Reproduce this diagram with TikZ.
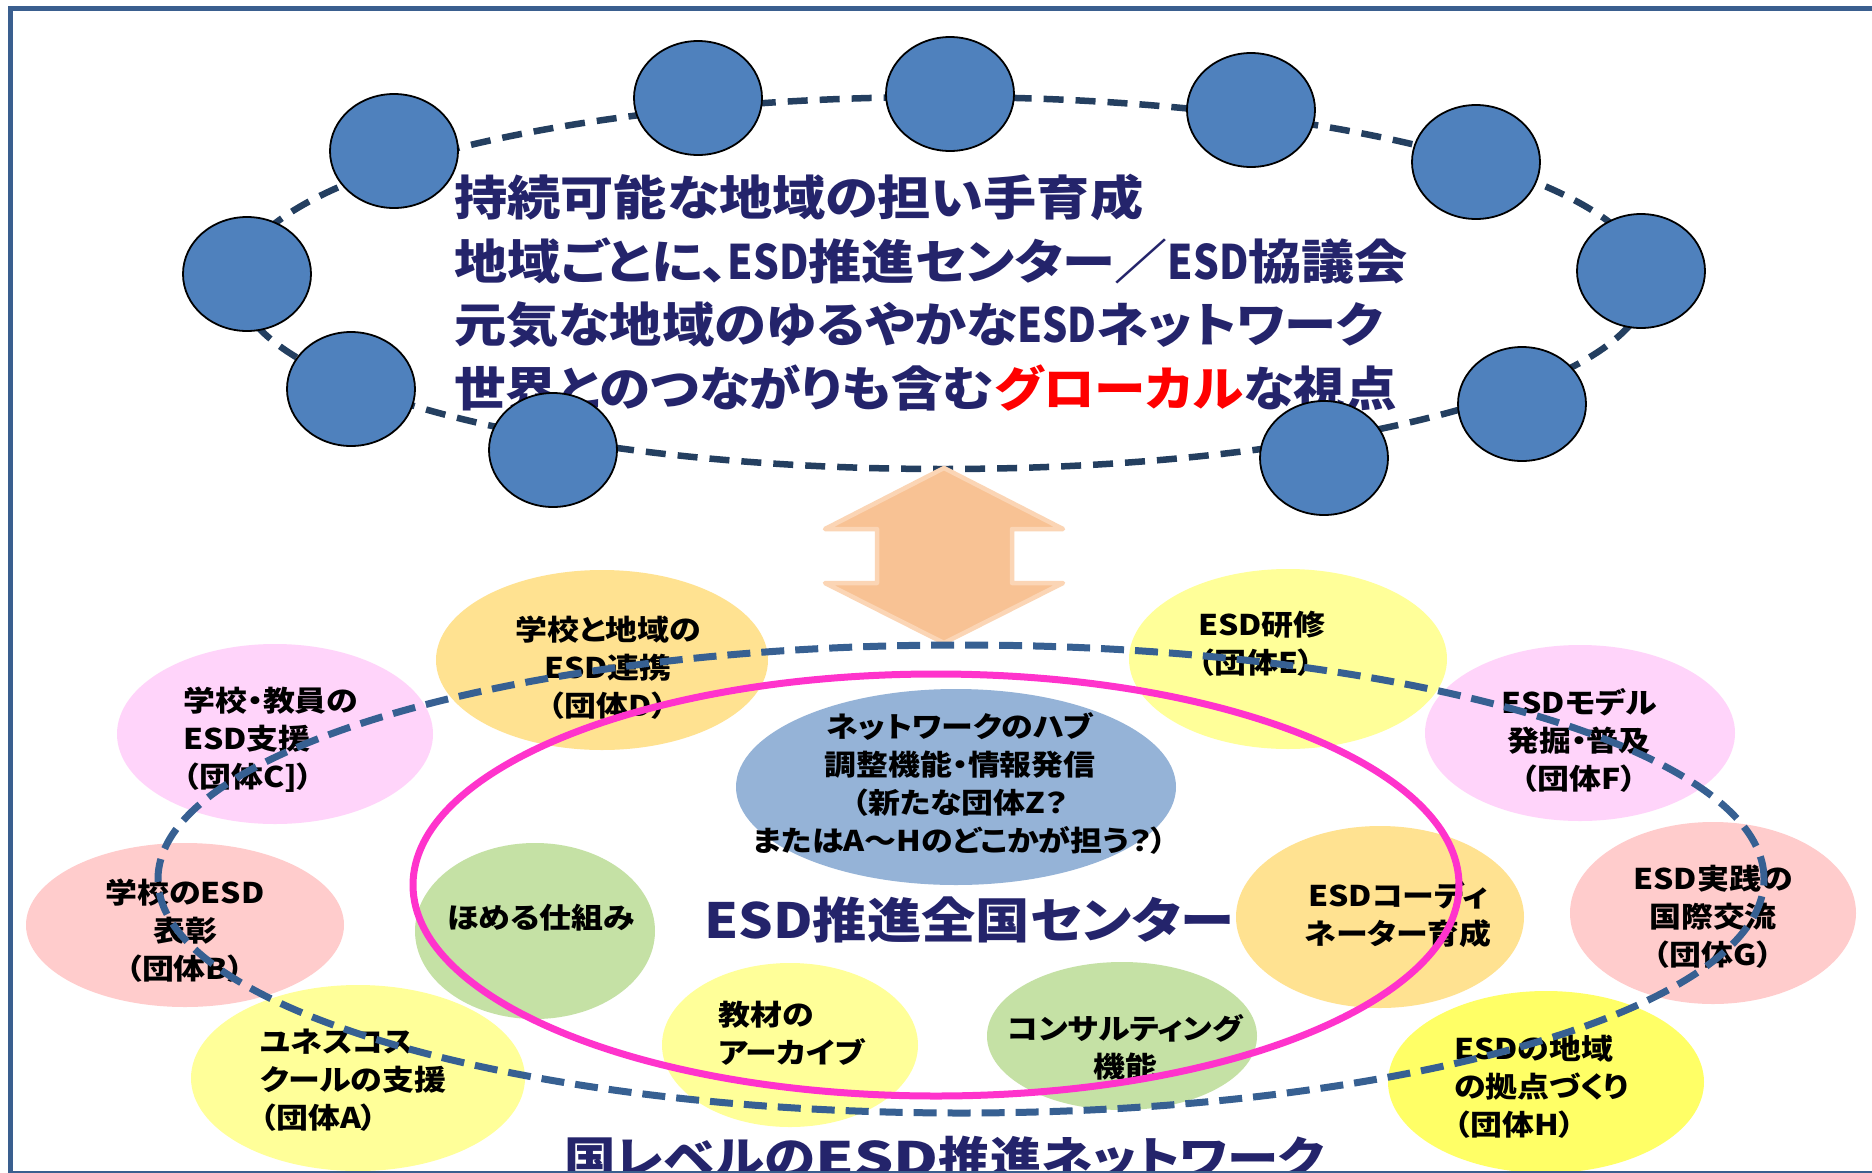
\documentclass[tikz,border=0pt]{standalone}
\usepackage{fontspec}
\usepackage{graphicx}
\newfontfamily\jp{Noto Sans CJK JP}[FakeStretch=1.12,RawFeature={+palt}]
\newfontfamily\jpthree{Noto Sans CJK JP}[FakeStretch=1.10,RawFeature={+palt}]
\newfontfamily\jpfour{Noto Sans CJK JP}[FakeStretch=1.085,RawFeature={+palt}]
\usetikzlibrary{shapes.geometric}
\newcommand\esdNarrow{\scalebox{0.76}[1]{ESD}}
\newcommand\esdWide{\scalebox{1.2}[1]{ESD}}
\definecolor{navy}{RGB}{36,36,107}
\definecolor{circblue}{RGB}{79,129,189}
\definecolor{topdash}{RGB}{36,63,96}
\definecolor{botdash}{RGB}{55,96,146}
\definecolor{framec}{RGB}{58,95,143}
\definecolor{pinkline}{RGB}{255,51,204}
\definecolor{lyellow}{RGB}{255,255,153}
\definecolor{byellow}{RGB}{255,255,102}
\definecolor{salmon}{RGB}{255,204,204}
\definecolor{lpink}{RGB}{255,212,250}
\definecolor{lorange}{RGB}{255,226,145}
\definecolor{lgreen}{RGB}{197,225,165}
\definecolor{hubblue}{RGB}{149,179,215}
\definecolor{arrowfill}{RGB}{248,194,148}
\definecolor{arrowline}{RGB}{251,213,181}
\tikzset{
  bub/.style={ellipse, draw=none, inner sep=0pt, outer sep=0pt},
  dot/.style={ellipse, draw=black, line width=1.8pt, fill=circblue, minimum width=128pt, minimum height=114pt, inner sep=0pt},
  lbl/.style={inner sep=0pt, font=\jp\bfseries\fontsize{28.5}{38}\selectfont, text=black},
  toptxt/.style={inner sep=0pt, anchor=west, font=\jp\bfseries\fontsize{47.5}{63}\selectfont, text=navy},
  bigtxt/.style={inner sep=0pt, font=\jp\bfseries\fontsize{48.5}{60}\selectfont, text=navy},
}
\begin{document}
\begin{tikzpicture}[x=1pt,y=-1pt]
\useasboundingbox (0,0) rectangle (1872,1173);
\fill[white] (0,0) rectangle (1872,1173);

% ---------- top part ----------
\draw[topdash, line width=6.5pt, dash pattern=on 20pt off 12pt] (943,283) ellipse [x radius=705pt, y radius=186pt];

\node[toptxt] (l1) at (454,197) {持続可能な地域の担い手育成};
\node[toptxt] (l2) at (454,261) {地域ごとに、\esdNarrow 推進センター／\esdNarrow 協議会};
\node[toptxt, font=\jpthree\bfseries\fontsize{47.5}{63}\selectfont] (l3) at (454,325) {元気な地域のゆるやかな\esdNarrow ネットワーク};
\node[toptxt, font=\jpfour\bfseries\fontsize{47.5}{63}\selectfont] (l4) at (454,388) {世界とのつながりも含む{\color{red}グローカル}な視点};

\node[dot] (c1) at (394,151) {};
\node[dot] (c2) at (698,98) {};
\node[dot] (c3) at (950,94) {};
\node[dot] (c4) at (1251,110) {};
\node[dot] (c5) at (1476,162) {};
\node[dot] (c6) at (1641,271) {};
\node[dot] (c7) at (1522,404) {};
\node[dot] (c8) at (1324,458) {};
\node[dot] (c9) at (553,450) {};
\node[dot] (c10) at (351,389) {};
\node[dot] (c11) at (247,274) {};

% ---------- bottom bubbles ----------
\node[bub, fill=salmon, minimum width=318pt, minimum height=164pt] (eB) at (185,925) {};
\node[bub, fill=lyellow, minimum width=334pt, minimum height=186pt] (eA) at (358,1078) {};
\node[bub, fill=lpink, minimum width=316pt, minimum height=180pt] (eC) at (275,734) {};
\node[bub, fill=lorange, minimum width=332pt, minimum height=180pt] (eD) at (602,660) {};
\node[bub, fill=lyellow, minimum width=318pt, minimum height=180pt] (eE) at (1288,659) {};
\node[bub, fill=lpink, minimum width=310pt, minimum height=176pt] (eF) at (1580,733) {};
\node[bub, fill=salmon, minimum width=286pt, minimum height=182pt] (eG) at (1713,913) {};
\node[bub, fill=byellow, minimum width=316pt, minimum height=182pt] (eH) at (1546,1082) {};
\node[bub, fill=hubblue, minimum width=440pt, minimum height=196pt] (eHub) at (956,787) {};
\node[bub, fill=lgreen, minimum width=240pt, minimum height=176pt] (eHome) at (535,931) {};
\node[bub, fill=lyellow, minimum width=256pt, minimum height=164pt] (eArc) at (790,1045) {};
\node[bub, fill=lgreen, minimum width=270pt, minimum height=148pt] (eCon) at (1122,1036) {};
\node[bub, fill=lorange, minimum width=288pt, minimum height=182pt] (eCoord) at (1380,917) {};

\node[lbl, anchor=west, align=left] (tA) at (260,1080) {ユネスコス\\クールの支援\\（団体A）};
\node[lbl, align=center] (tB) at (185,931) {学校のESD\\表彰\\（団体B）};
\node[lbl, anchor=west, align=left] (tC) at (183,740) {学校・教員の\\ESD支援\\（団体C]）};
\node[lbl, align=center] (tD) at (608,668) {学校と地域の\\ESD連携\\（団体D）};
\node[lbl, anchor=west, align=left] (tE) at (1198,644) {ESD研修\\（団体E）};
\node[lbl, align=center] (tF) at (1579,740) {ESDモデル\\発掘・普及\\（団体F）};
\node[lbl, align=center] (tG) at (1713,917) {ESD実践の\\国際交流\\（団体G）};
\node[lbl, anchor=west, align=left] (tH) at (1454,1087) {ESDの地域\\の拠点づくり\\（団体H）};
\node[lbl, align=center] (tCoord) at (1398,915) {ESDコーディ\\ネーター育成};
\node[lbl, align=center] (tHub) at (960,783) {ネットワークのハブ\\調整機能・情報発信\\（新たな団体Z？\\またはA～Hのどこかが担う？）};
\node[lbl] (tHome) at (541,918) {ほめる仕組み};
\node[lbl, anchor=west, align=left] (tArc) at (718,1033) {教材の\\アーカイブ};
\node[lbl, align=center] (tCon) at (1125,1047) {コンサルティング\\機能};

% ---------- double arrow ----------
\filldraw[fill=arrowfill, draw=arrowline, line width=4.5pt, line join=round]
  (944,468) -- (1063,529) -- (1012,529) -- (1012,583) -- (1063,583) -- (944,643)
  -- (825,583) -- (877,583) -- (877,529) -- (825,529) -- cycle;

% ---------- rings ----------
\draw[pinkline, line width=7pt] (936,885) ellipse [x radius=523pt, y radius=211pt];
\draw[botdash, line width=7pt, dash pattern=on 23pt off 11pt] (961,879) ellipse [x radius=803pt, y radius=234pt];

\node[bigtxt] (tCenter) at (969,920) {ESD推進全国センター};
\node[bigtxt, font=\jp\bfseries\fontsize{46}{60}\selectfont] (tNet) at (944,1158) {国レベルの\esdWide 推進ネットワーク};

% ---------- frame ----------
\draw[framec, line width=5pt] (10.5,8.5) rectangle (1890,1173.5);
\end{tikzpicture}
\end{document}
